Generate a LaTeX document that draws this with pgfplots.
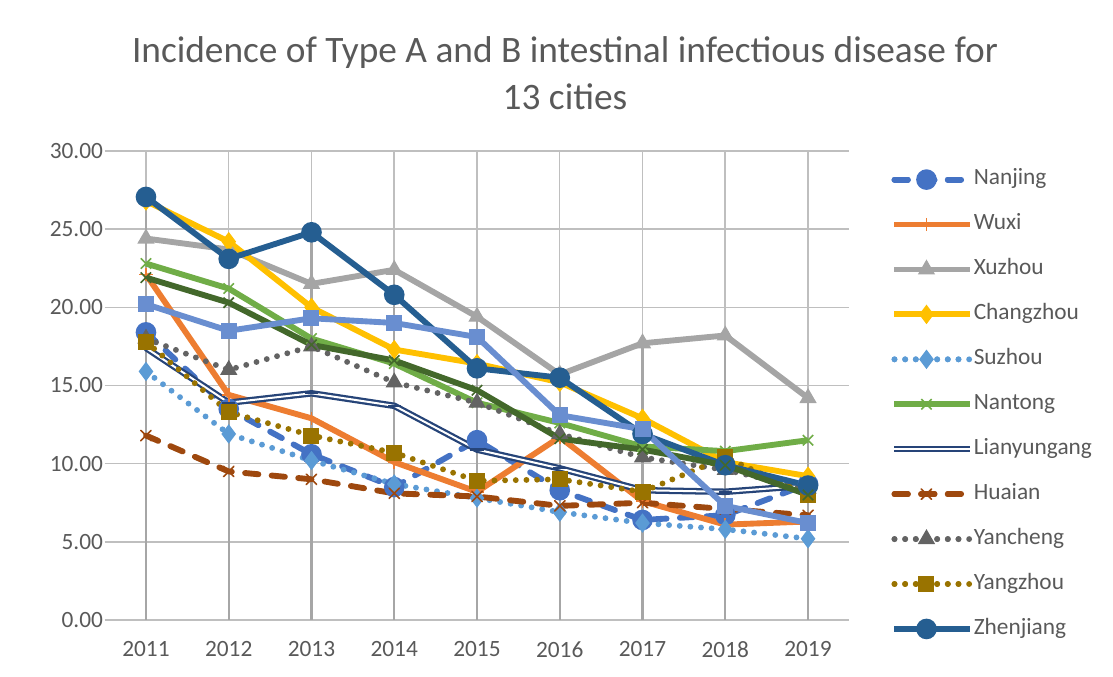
\documentclass[border=0pt]{standalone}
\usepackage{fontspec}
\setmainfont{Carlito}
\usepackage{pgfplots}
\usepackage{pgfplotstable}
\pgfplotsset{compat=1.18}
\definecolor{cA}{HTML}{4472C4}
\definecolor{cB}{HTML}{ED7D31}
\definecolor{cC}{HTML}{A5A5A5}
\definecolor{cD}{HTML}{FFC000}
\definecolor{cE}{HTML}{5B9BD5}
\definecolor{cF}{HTML}{70AD47}
\definecolor{cG}{HTML}{264478}
\definecolor{cH}{HTML}{9E480E}
\definecolor{cI}{HTML}{636363}
\definecolor{cJ}{HTML}{997300}
\definecolor{cK}{HTML}{255E91}
\definecolor{cL}{HTML}{43682B}
\definecolor{cM}{HTML}{698ED0}
\definecolor{txt}{HTML}{595959}
\definecolor{grid}{HTML}{D9D9D9}
\definecolor{drop}{HTML}{A6A6A6}
\pgfplotstableread{
year Nanjing Wuxi Xuzhou Changzhou Suzhou Nantong Lianyungang Huaian Yancheng Yangzhou Zhenjiang Stw Sth Max
2011 18.4 22.1 24.4 26.8 15.9 22.8 17.4 11.8 18.0 17.8 27.06 21.9 20.2 27.06
2012 13.5 14.4 23.7 24.2 11.9 21.2 13.9 9.5 16.0 13.3 23.1 20.3 18.5 24.2
2013 10.6 12.9 21.5 20.0 10.2 18.0 14.5 9.0 17.5 11.8 24.8 17.6 19.3 24.8
2014 8.5 10.1 22.4 17.3 8.7 16.4 13.7 8.1 15.2 10.7 20.8 16.6 19.0 22.4
2015 11.5 8.2 19.4 16.4 7.8 13.9 10.9 7.9 13.9 8.9 16.1 14.7 18.1 19.4
2016 8.3 11.7 15.7 15.2 6.9 12.6 9.7 7.3 11.9 9.0 15.5 11.6 13.1 15.7
2017 6.4 7.6 17.7 12.9 6.2 11.1 8.3 7.5 10.4 8.2 11.9 10.9 12.2 17.7
2018 6.7 6.1 18.2 10.1 5.8 10.8 8.2 7.1 9.6 10.4 9.9 9.9 7.3 18.2
2019 8.7 6.3 14.2 9.2 5.2 11.5 8.6 6.7 8.4 8.0 8.6 8.0 6.2 14.2
}\data
\begin{document}
\begin{tikzpicture}
\useasboundingbox (0,0) rectangle (834.75pt,507.75pt);
\node[align=center, text=txt, font=\fontsize{28pt}{35pt}\selectfont] at (423.75pt,453pt)
  {Incidence of Type A and B intestinal infectious disease for\\13 cities};
\begin{axis}[
  at={(78.45pt,42.75pt)}, anchor=south west,
  scale only axis, width=558.6pt, height=351.75pt,
  xmin=2010.5, xmax=2019.5, ymin=0, ymax=30,
  axis line style={draw=none},
  xtick={2011,...,2019}, ytick={0,5,...,30},
  tick style={draw=none},
  ymajorgrids, major grid style={grid, line width=1.1pt},
  /pgf/number format/assume math mode=true,
  xticklabel style={font=\fontsize{17.5pt}{20pt}\selectfont, text=txt, inner sep=0pt, anchor=north, yshift=-16pt, /pgf/number format/set thousands separator={}},
  yticklabel style={font=\fontsize{17.5pt}{20pt}\selectfont, text=txt, inner sep=0pt, anchor=east, xshift=-1pt, /pgf/number format/.cd, fixed, fixed zerofill, precision=2},
  legend style={at={(1.0504,0.968)}, anchor=north west, draw=none, fill=none,
    font=\fontsize{17.5pt}{20pt}\selectfont, text=txt, row sep=17.7pt, column sep=0pt,
    nodes={text height=12pt, text depth=4pt, inner sep=0pt}},
  legend cell align=left,
  legend image code/.code={\draw[mark repeat=2,mark phase=2] plot coordinates {(0pt,0pt) (24pt,0pt) (48pt,0pt)}; \path (0pt,0pt) -- (57pt,0pt);},
  clip=false,
]
\addplot[ycomb, draw=drop, line width=1.6pt, mark=none, forget plot] table[x=year,y=Max]{\data};
\addplot[cA, line width=4.4pt, line cap=round, dash pattern=on 10pt off 10pt, mark=*, mark size=5.5pt, mark options={solid}] table[x=year,y=Nanjing]{\data};
\addplot[cB, line width=4.4pt, mark=+, mark size=5pt, mark options={solid, line width=1.2pt}] table[x=year,y=Wuxi]{\data};
\addplot[cC, line width=4.4pt, mark=triangle*, mark size=6.5pt, mark options={solid, line width=1pt}] table[x=year,y=Xuzhou]{\data};
\addplot[cD, line width=4.4pt, mark=diamond*, mark size=6.5pt, mark options={solid, line width=1pt}] table[x=year,y=Changzhou]{\data};
\addplot[cE, line width=4.4pt, line cap=round, dash pattern=on 0pt off 8pt, mark=diamond*, mark size=6.5pt, mark options={solid, line width=1pt}] table[x=year,y=Suzhou]{\data};
\addplot[cF, line width=4.4pt, mark=x, mark size=5.5pt, mark options={solid, line width=1.2pt}] table[x=year,y=Nantong]{\data};
\addplot[cG, line width=1.7pt, double=white, double distance=1.5pt, mark=-, mark size=5pt, mark options={solid, line width=1.7pt}] table[x=year,y=Lianyungang]{\data};
\addplot[cH, line width=4.4pt, line cap=round, dash pattern=on 10pt off 10pt, mark=x, mark size=5.5pt, mark options={solid, line width=1.2pt}] table[x=year,y=Huaian]{\data};
\addplot[cI, line width=4.4pt, line cap=round, dash pattern=on 0pt off 8pt, mark=triangle*, mark size=6.5pt, mark options={solid, line width=1pt}] table[x=year,y=Yancheng]{\data};
\addplot[cJ, line width=4.4pt, line cap=round, dash pattern=on 0pt off 8pt, mark=square*, mark size=5.5pt, mark options={solid, line width=1pt}] table[x=year,y=Yangzhou]{\data};
\addplot[cK, line width=4.4pt, mark=*, mark size=5.5pt, mark options={solid}] table[x=year,y=Zhenjiang]{\data};
\addplot[cL, line width=4.4pt, mark=x, mark size=5.5pt, mark options={solid, line width=1.2pt}] table[x=year,y=Stw]{\data};
\addplot[cM, line width=4.4pt, mark=square*, mark size=5.5pt, mark options={solid, line width=1pt}] table[x=year,y=Sth]{\data};
\legend{Nanjing,Wuxi,Xuzhou,Changzhou,Suzhou,Nantong,Lianyungang,Huaian,Yancheng,Yangzhou,Zhenjiang}
\end{axis}
\end{tikzpicture}
\end{document}
